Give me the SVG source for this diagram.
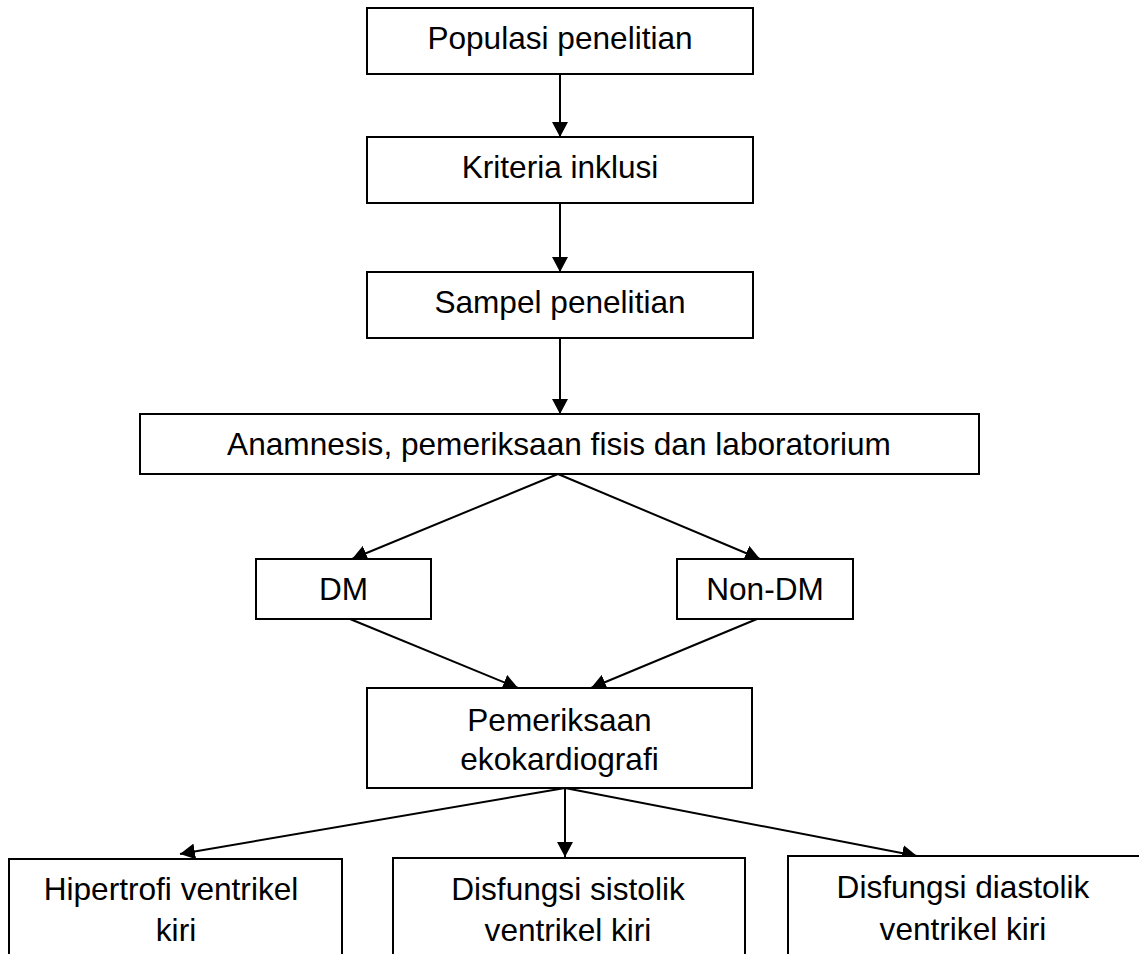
<svg xmlns="http://www.w3.org/2000/svg" width="1139" height="954" viewBox="0 0 1139 954">
<defs>
<style>
.box{fill:#fff;stroke:#000;stroke-width:2}
.lbl{font-family:"Liberation Sans",Arial,sans-serif;font-size:31.6px;fill:#000;text-anchor:middle}
.con{stroke:#000;stroke-width:2;fill:none;marker-end:url(#ah)}
</style>
<marker id="ah" markerUnits="userSpaceOnUse" markerWidth="16" markerHeight="16" refX="15" refY="8" orient="auto">
<path d="M0,0 L15,8 L0,16 Z" fill="#000"/>
</marker>
</defs>
<rect width="1139" height="954" fill="#fff"/>
<g id="connectors">
<line class="con" x1="560" y1="74" x2="560" y2="137"/>
<line class="con" x1="560" y1="203" x2="560" y2="272"/>
<line class="con" x1="560" y1="338" x2="560" y2="414"/>
<line class="con" x1="558" y1="474" x2="352" y2="559"/>
<line class="con" x1="558" y1="474" x2="760" y2="559"/>
<line class="con" x1="350" y1="619" x2="518" y2="688"/>
<line class="con" x1="757" y1="619" x2="591" y2="688"/>
<line class="con" x1="565" y1="788" x2="180" y2="854"/>
<line class="con" x1="565" y1="788" x2="565" y2="857"/>
<line class="con" x1="565" y1="788" x2="917" y2="856"/>
</g>
<g id="populasi">
<rect class="box" x="367" y="8" width="386" height="66"/>
<text class="lbl" x="560" y="49">Populasi penelitian</text>
</g>
<g id="kriteria">
<rect class="box" x="367" y="137" width="386" height="66"/>
<text class="lbl" x="560" y="178">Kriteria inklusi</text>
</g>
<g id="sampel">
<rect class="box" x="367" y="272" width="386" height="66"/>
<text class="lbl" x="560" y="313">Sampel penelitian</text>
</g>
<g id="anamnesis">
<rect class="box" x="140" y="414" width="839" height="60"/>
<text class="lbl" x="559" y="455">Anamnesis, pemeriksaan fisis dan laboratorium</text>
</g>
<g id="dm">
<rect class="box" x="256" y="559" width="175" height="60"/>
<text class="lbl" x="343.5" y="600">DM</text>
</g>
<g id="nondm">
<rect class="box" x="677" y="559" width="176" height="60"/>
<text class="lbl" x="765" y="600">Non-DM</text>
</g>
<g id="ekokardiografi">
<rect class="box" x="367" y="688" width="385" height="100"/>
<text class="lbl" x="559.5" y="731">Pemeriksaan</text>
<text class="lbl" x="559.5" y="770">ekokardiografi</text>
</g>
<g id="hipertrofi">
<rect class="box" x="9" y="859" width="333" height="110"/>
<text class="lbl" x="171" y="900">Hipertrofi ventrikel</text>
<text class="lbl" x="176" y="941">kiri</text>
</g>
<g id="sistolik">
<rect class="box" x="393" y="858" width="352" height="110"/>
<text class="lbl" x="568" y="900">Disfungsi sistolik</text>
<text class="lbl" x="568" y="941">ventrikel kiri</text>
</g>
<g id="diastolik">
<rect class="box" x="788" y="856" width="352" height="110"/>
<text class="lbl" x="963" y="898">Disfungsi diastolik</text>
<text class="lbl" x="963" y="940">ventrikel kiri</text>
</g>
</svg>
